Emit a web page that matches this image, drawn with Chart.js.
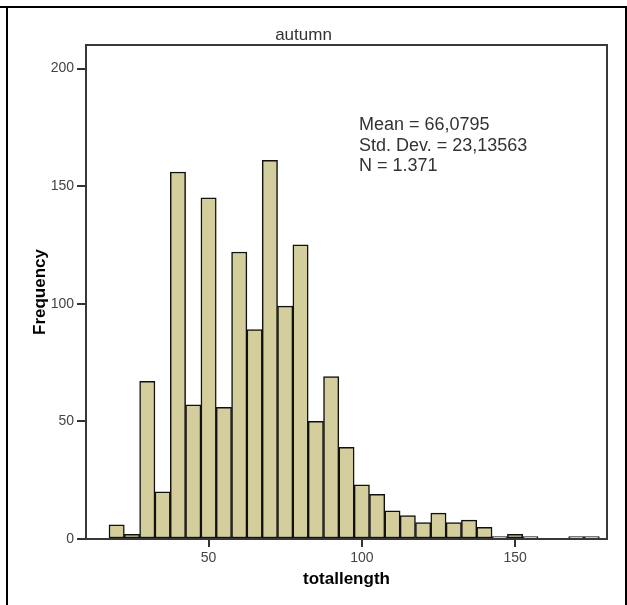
<!DOCTYPE html>
<html>
<head>
<meta charset="utf-8">
<script src="https://cdn.jsdelivr.net/npm/chart.js@4/dist/chart.umd.min.js"></script>
<style>
  html, body { margin: 0; padding: 0; background: #fff; }
  #wrap { position: relative; width: 627px; height: 605px; overflow: hidden; }
  #chartBox { position: absolute; left: 0; top: 0; width: 627px; height: 605px; }
  .rule { position: absolute; background: #000; }
  #stats { position: absolute; left: 359px; top: 114px; font-family: "Liberation Sans", Arial, sans-serif;
           font-size: 18px; line-height: 20.5px; color: #333; white-space: pre; }
</style>
</head>
<body>
<div id="wrap">
  <div id="chartBox"><canvas id="c"></canvas></div>
  <div class="rule" style="left:0;top:6px;width:627px;height:2px"></div>
  <div class="rule" style="left:6px;top:6px;width:2px;height:599px"></div>
  <div class="rule" style="left:625px;top:6px;width:2px;height:599px"></div>
  <div id="stats"></div>
</div>
<script>
// ---- data ----
const chartTitle = "autumn";
const xAxisTitle = "totallength";
const yAxisTitle = "Frequency";
const binCenters = [20,25,30,35,40,45,50,55,60,65,70,75,80,85,90,95,100,105,110,115,120,125,130,135,140,145,150,155,160,165,170,175];
const frequencies = [6,2,67,20,156,57,145,56,122,89,161,99,125,50,69,39,23,19,12,10,7,11,7,8,5,1,2,1,0,0,1,1];
const xTickValues = [50,100,150];
const yTickValues = [0,50,100,150,200];
const statLines = ["Mean = 66,0795", "Std. Dev. = 23,13563", "N = 1.371"];

document.getElementById('stats').textContent = statLines.join("\n");

const framePlugin = {
  id: 'frame',
  afterDatasetsDraw(chart) {
    const {ctx, chartArea: a} = chart;
    ctx.save();
    ctx.strokeStyle = '#383838';
    ctx.lineWidth = 2;
    ctx.strokeRect(a.left, a.top, a.right - a.left, a.bottom - a.top);
    ctx.restore();
  }
};

new Chart(document.getElementById('c'), {
  type: 'bar',
  data: {
    datasets: [{
      data: binCenters.map((x, i) => ({x: x, y: frequencies[i]})),
      backgroundColor: 'rgb(211,206,155)',
      borderColor: '#111',
      borderWidth: 1.5,
      borderSkipped: false,
      barPercentage: 1,
      categoryPercentage: 1
    }]
  },
  options: {
    responsive: true,
    maintainAspectRatio: false,
    animation: false,
    layout: { padding: { left: 0, right: 20, top: 0, bottom: 0 } },
    plugins: {
      legend: { display: false },
      tooltip: { enabled: false },
      title: {
        display: true,
        text: chartTitle,
        color: '#333',
        font: { family: '"Liberation Sans", Arial, sans-serif', size: 17, weight: 'normal', lineHeight: 1.2 },
        padding: { top: 25.5, bottom: -0.9 }
      }
    },
    scales: {
      x: {
        type: 'linear',
        min: 10,
        max: 180,
        offset: false,
        afterBuildTicks(s) { s.ticks = xTickValues.map(v => ({value: v})); },
        afterFit(s) { s.height = 66; },
        ticks: {
          color: '#444',
          padding: 3,
          autoSkip: false,
          maxRotation: 0,
          font: { family: '"Liberation Sans", Arial, sans-serif', size: 14 }
        },
        grid: { offset: false, drawOnChartArea: false, drawTicks: true, tickLength: 8, tickColor: '#333', lineWidth: 2 },
        border: { display: true, color: '#383838', width: 2 },
        title: {
          display: true, text: xAxisTitle, color: '#000',
          font: { family: '"Liberation Sans", Arial, sans-serif', size: 17, weight: 'bold', lineHeight: 1.2 },
          padding: { top: 0, bottom: 15 }
        }
      },
      y: {
        type: 'linear',
        min: 0,
        max: 210,
        afterBuildTicks(s) { s.ticks = yTickValues.map(v => ({value: v})); },
        afterFit(s) { s.width = 86; },
        ticks: {
          color: '#444',
          padding: 3,
          font: { family: '"Liberation Sans", Arial, sans-serif', size: 14 }
        },
        grid: { drawOnChartArea: false, drawTicks: true, tickLength: 9, tickColor: '#333', lineWidth: 2 },
        border: { display: true, color: '#383838', width: 2 },
        title: {
          display: true, text: yAxisTitle, color: '#000',
          font: { family: '"Liberation Sans", Arial, sans-serif', size: 17, weight: 'bold', lineHeight: 1.2 },
          padding: { top: 30, bottom: 0 }
        }
      }
    }
  },
  plugins: [framePlugin]
});
</script>
</body>
</html>
